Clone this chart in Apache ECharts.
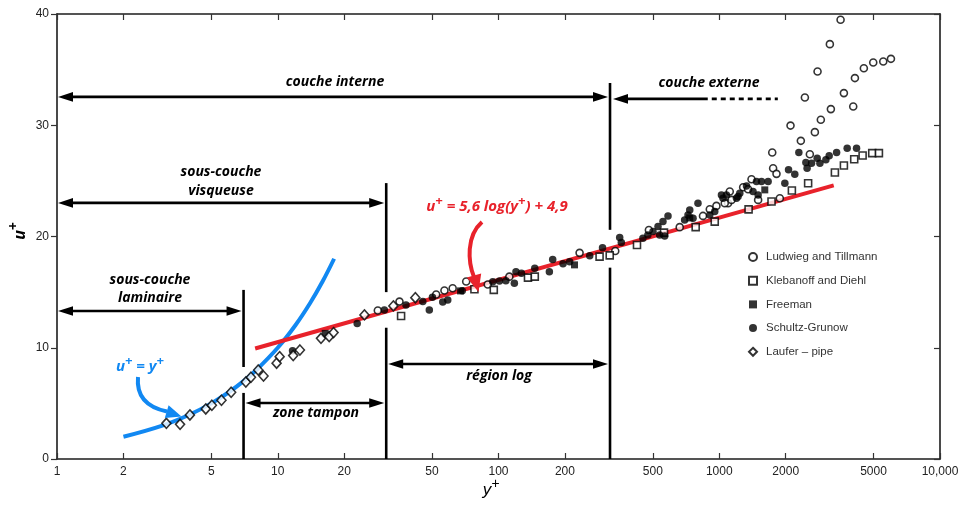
<!DOCTYPE html>
<html><head><meta charset="utf-8">
<script src="https://cdn.jsdelivr.net/npm/echarts@6/dist/echarts.min.js"></script>
<style>html,body{margin:0;padding:0;background:#fff}#c{width:962px;height:507px}</style>
</head><body><div id="c"></div>
<script>
// ---------- data ----------
const xTickValues = [1, 2, 5, 10, 20, 50, 100, 200, 500, 1000, 2000, 5000, 10000];
const yTickValues = [0, 10, 20, 30, 40];
const seriesNames = ['Ludwieg and Tillmann', 'Klebanoff and Diehl', 'Freeman', 'Schultz-Grunow', 'Laufer \u2013 pipe'];

const ludwieg = [[28.4,13.35],[35.6,14.15],[52.2,14.79],[56.9,15.15],[62,15.35],[71.4,15.95],[89.4,15.69],[112,16.39],[233,18.53],[338,18.7],[480,20.59],[662,20.84],[844,21.85],[906,22.45],[971,22.75],[1096,22.99],[1116,24.04],[1283,24.43],[1351,24.25],[1400,25.15],[1500,23.29],[1738,27.55],[1754,26.14],[1817,25.63],[1059,22.99],[1137,23.29],[1881,23.44],[2103,29.97],[2342,28.6],[2443,32.49],[2573,27.4],[2711,29.38],[2788,34.83],[2885,30.49],[3170,37.29],[3204,31.45],[3545,39.48],[3670,32.89],[4045,31.68],[4117,34.24],[4519,35.13],[4984,35.64],[5533,35.73],[5995,35.97]];
const klebanoff = [[36.2,12.86],[77.8,15.26],[95.2,15.2],[136,16.3],[146,16.39],[287,18.19],[319,18.3],[424,19.24],[562,20.35],[782,20.84],[954,21.34],[1358,22.44],[1725,23.14],[2133,24.13],[2527,24.79],[3341,25.75],[3670,26.38],[4087,26.95],[4461,27.28],[4932,27.49],[5288,27.49]];
const freeman = [[16.4,11.29],[67.3,15.11],[221,17.45],[735,21.67],[1608,24.19]];
const schultz = [[11.67,9.74],[22.9,12.19],[30.4,13.4],[38.1,13.85],[45.4,14.15],[48.6,13.4],[50.2,14.54],[55.9,14.12],[58.9,14.3],[68.5,15.13],[94.2,15.94],[101,16.0],[108,16.03],[118,15.8],[120,16.84],[127,16.7],[146,17.15],[170,16.84],[176,17.94],[196,17.54],[210,17.74],[259,18.26],[296,19.0],[354,19.92],[360,19.47],[451,19.85],[475,20.14],[501,20.44],[528,20.89],[556,21.34],[586,21.85],[537,20.14],[566,20.05],[697,21.49],[722,21.94],[735,22.39],[761,21.65],[801,22.99],[906,21.94],[954,22.24],[1040,23.44],[1078,23.74],[1197,23.44],[1239,23.89],[1329,24.55],[1422,24.04],[1475,24.94],[1554,24.94],[1665,24.94],[1023,23.74],[1217,23.59],[1500,23.74],[1982,24.79],[2060,25.99],[2199,25.6],[2294,27.54],[2468,26.65],[2500,26.14],[2618,26.59],[2777,27.04],[2857,26.59],[3041,26.89],[3148,27.25],[3401,27.54],[3798,27.94],[4188,27.94]];
const laufer = [[3.13,3.21],[3.61,3.12],[4.0,3.96],[4.72,4.5],[5.03,4.83],[5.56,5.28],[6.15,6.0],[7.17,6.92],[7.56,7.35],[8.16,8.0],[8.62,7.46],[9.88,8.61],[10.2,9.2],[11.75,9.3],[12.6,9.8],[15.7,10.85],[17.1,11.0],[17.9,11.36],[24.7,12.95],[33.4,13.76],[42.0,14.5]];

// u+ = y+ (viscous sublayer law) and u+ = 5.6 log(y+) + 4.9 (log law)
const linearLaw = [[2,2],[3,3],[4,4],[5,5],[6,6],[7,7],[8,8],[10,10],[12,12],[14,14],[16,16],[18,18]];
const logLaw = [[7.9,9.93],[3300,24.6]];

// region boundaries (y+)
const boundaries = [7, 31, 320];

// ---------- chart ----------
const FONT = '"Liberation Sans", Arial, sans-serif';
const AFONT = '"Open Sans", "DejaVu Sans", sans-serif';
const RED = '#e8222b', BLUE = '#1188f2', INK = '#000';

const chart = echarts.init(document.getElementById('c'), null, {renderer: 'canvas'});

function xAxisDef(pos, showLabel) {
  return {
    type: 'log', logBase: 10, min: 1, max: 10000, position: pos,
    axisLine: {show: true, onZero: false, lineStyle: {color: '#1c1c1c', width: 1.6}},
    axisTick: {show: true, inside: true, length: 6, customValues: xTickValues, lineStyle: {color: '#333', width: 1.2}},
    minorTick: {show: false}, splitLine: {show: false},
    axisLabel: {
      show: showLabel, customValues: xTickValues, color: '#222', fontFamily: FONT, fontSize: 12, margin: 7,
      formatter: v => { const r = Math.round(v); return r >= 10000 ? '10,000' : String(r); }
    }
  };
}
function yAxisDef(pos, showLabel, inside) {
  return {
    type: 'value', min: 0, max: 40, interval: 10, position: pos,
    axisLine: {show: true, onZero: false, lineStyle: {color: '#1c1c1c', width: 1.6}},
    axisTick: {show: true, inside: inside, length: 6, lineStyle: {color: '#333', width: 1.2}},
    splitLine: {show: false},
    axisLabel: {show: showLabel, color: '#222', fontFamily: FONT, fontSize: 12, margin: 8}
  };
}
const openStyle = {color: '#fff', borderColor: INK, borderWidth: 1.6};
const fillStyle = {color: INK, borderColor: INK, borderWidth: 0};
function sc(name, data, symbol, size, style) {
  return {name, type: 'scatter', data, symbol, symbolSize: size, itemStyle: style, z: 5, silent: true};
}

chart.setOption({
  animation: false,
  grid: {left: 57, right: 22, top: 14, bottom: 48},
  xAxis: [xAxisDef('bottom', true), xAxisDef('top', false)],
  yAxis: [yAxisDef('left', true, false), yAxisDef('right', false, true)],
  legend: {
    data: seriesNames, orient: 'vertical', left: 743, top: 245,
    itemWidth: 8, itemHeight: 8, itemGap: 9.7,
    textStyle: {color: '#333', fontFamily: FONT, fontSize: 11.5, lineHeight: 14, padding: [0, 0, 0, 4]},
    selectedMode: false
  },
  series: [
    {type: 'line', data: linearLaw, smooth: 0.4, showSymbol: false, lineStyle: {color: BLUE, width: 4}, z: 2, silent: true},
    {type: 'line', data: logLaw, showSymbol: false, lineStyle: {color: RED, width: 4}, z: 2, silent: true},
    sc(seriesNames[0], ludwieg, 'circle', 7, openStyle),
    sc(seriesNames[1], klebanoff, 'rect', 7, openStyle),
    sc(seriesNames[2], freeman, 'rect', 7, fillStyle),
    sc(seriesNames[3], schultz, 'circle', 7.5, fillStyle),
    sc(seriesNames[4], laufer, 'diamond', [9, 10], openStyle)
  ]
});

// ---------- annotations ----------
const P = (x, u) => chart.convertToPixel({xAxisIndex: 0, yAxisIndex: 0}, [x, u]);
const LW = 2.6, HL = 15, HW = 4.8;
const els = [];
function head(x, y, dir) {
  els.push({type: 'polygon', z: 10, silent: true, shape: {points: [[x, y], [x - dir * HL, y - HW], [x - dir * HL, y + HW]]}, style: {fill: '#000'}});
}
function hline(x1, x2, y, dash) {
  els.push({type: 'line', z: 10, silent: true, shape: {x1, y1: y, x2, y2: y}, style: {stroke: '#000', lineWidth: LW, lineDash: dash || null}});
}
function arrow(xa, xb, u, padL, padR, left = true, right = true) {
  const a = P(xa, u), b = P(xb, u);
  const ax = a[0] + padL, bx = b[0] - padR, y = a[1];
  hline(ax + (left ? HL - 3 : 0), bx - (right ? HL - 3 : 0), y);
  if (left) head(ax, y, -1);
  if (right) head(bx, y, 1);
}
function vseg(x, u1, u2) {
  const a = P(x, u1), b = P(x, u2);
  els.push({type: 'line', z: 10, silent: true, shape: {x1: a[0], y1: a[1], x2: b[0], y2: b[1]}, style: {stroke: '#000', lineWidth: LW}});
}
// vertical boundaries (broken where the data pass)
vseg(boundaries[0], 15.2, 8.27); vseg(boundaries[0], 5.94, 0);
vseg(boundaries[1], 24.8, 15.0); vseg(boundaries[1], 11.8, 0);
vseg(boundaries[2], 33.8, 20.6); vseg(boundaries[2], 17.2, 0);
// double arrows
arrow(1, boundaries[2], 32.55, 1, 2);        // couche interne
arrow(1, boundaries[1], 23.02, 1, 2);        // sous-couche visqueuse
arrow(1, boundaries[0], 13.31, 1, 2);        // sous-couche laminaire
arrow(boundaries[0], boundaries[1], 5.04, 2, 2); // zone tampon
arrow(boundaries[1], boundaries[2], 8.54, 2, 2); // région log
// couche externe: left head, solid then dashed
(function () {
  const a = P(boundaries[2], 32.37), m = P(887, 32.37), e = P(1842, 32.37);
  const ax = a[0] + 3, y = a[1];
  head(ax, y, -1);
  hline(ax + HL - 3, m[0], y);
  hline(m[0] + 4, e[0], y, [5, 4]);
})();

// curved pointer arrows
els.push({type: 'bezierCurve', z: 10, silent: true, shape: {x1: 482, y1: 222, cpx1: 466, cpy1: 236, cpx2: 468, cpy2: 262, x2: 474, y2: 277}, style: {stroke: RED, lineWidth: 4, fill: null}});
els.push({type: 'polygon', z: 10, silent: true, shape: {points: [[478.5, 292], [466.8, 277.5], [481.2, 273.6]]}, style: {fill: RED}});
els.push({type: 'bezierCurve', z: 10, silent: true, shape: {x1: 138, y1: 377, cpx1: 136, cpy1: 399, cpx2: 150, cpy2: 408, x2: 167, y2: 411.5}, style: {stroke: BLUE, lineWidth: 4, fill: null}});
els.push({type: 'polygon', z: 10, silent: true, shape: {points: [[181.5, 416.5], [164.8, 418], [168.6, 405.2]]}, style: {fill: BLUE}});

// texts
function label(text, x, y, color) {
  els.push({type: 'text', z: 11, silent: true, x, y, style: {text, align: 'center', verticalAlign: 'middle', fill: color || '#000', font: 'italic bold 14px ' + AFONT}});
}
label('couche interne', 335, 82);
label('couche externe', 709, 83);
label('sous-couche', 221, 172);
label('visqueuse', 221, 191);
label('sous-couche', 150, 280);
label('laminaire', 150, 298);
label('zone tampon', 316, 413);
label('r\u00e9gion log', 499, 376);

function richLabel(parts, x, y, color, size, weight, family, rotation) {
  const txt = parts.map(p => p.sup ? '{s|' + p.t + '}' : '{m|' + p.t + '}').join('');
  els.push({type: 'text', z: 11, silent: true, x, y, rotation: rotation || 0, style: {
    text: txt, align: 'center', verticalAlign: 'middle',
    rich: {
      m: {fontSize: size, fontStyle: 'italic', fontWeight: weight, fontFamily: family, fill: color, color: color, lineHeight: size + 3},
      s: {fontSize: Math.round(size * 0.85), fontStyle: 'italic', fontWeight: weight, fontFamily: family, fill: color, color: color, lineHeight: 13, padding: [0, 0, Math.round(size * 0.7), 0]}
    }
  }});
}
richLabel([{t: 'u'}, {t: '+', sup: 1}, {t: ' = 5,6 log(y'}, {t: '+', sup: 1}, {t: ') + 4,9'}], 497, 207, RED, 15, 'bold', AFONT);
richLabel([{t: 'u'}, {t: '+', sup: 1}, {t: ' = y'}, {t: '+', sup: 1}], 140, 367, BLUE, 15, 'bold', AFONT);
richLabel([{t: 'u'}, {t: '+', sup: 1}], 20, 231, '#000', 16, 'bold', AFONT, Math.PI / 2);
richLabel([{t: 'y'}, {t: '+', sup: 1}], 491, 490, '#000', 17, 'normal', FONT);

chart.setOption({graphic: {elements: els}});
</script>
</body></html>
